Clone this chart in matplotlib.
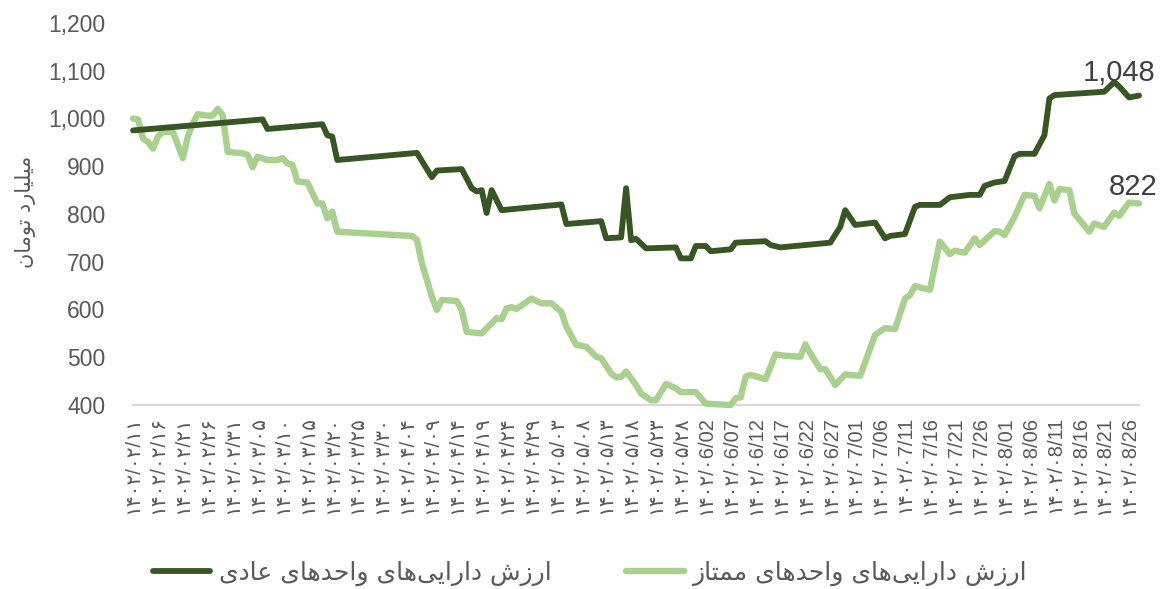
import matplotlib.pyplot as plt
import numpy as np

plt.rcParams['font.family'] = ['Liberation Sans', 'DejaVu Sans']

# ---------------------------------------------------------------------------
# data: days counted from 1402/02/11, values in billion toman
dark_days = [0, 26, 27, 38, 39, 40, 41, 57, 60, 61, 66, 68, 69, 70, 71, 72, 74,
             86, 87, 94, 95, 98, 99, 100, 101, 103, 109, 110, 112, 113, 115, 116,
             120, 121, 127, 128, 130, 140, 142, 143, 145, 149, 151, 152, 155, 157,
             158, 162, 164, 168, 170, 171, 173, 175, 177, 178, 181, 183, 184, 185,
             195, 196, 197, 198, 200, 202]
dark_vals = [975, 998, 978, 988, 965, 962, 913, 928, 877, 891, 894, 854, 847, 850, 802, 850, 808,
             820, 779, 785, 749, 751, 854, 745, 748, 728, 730, 707, 707, 733, 733, 722,
             726, 740, 743, 735, 730, 740, 773, 808, 777, 782, 749, 754, 758, 815,
             819, 819, 835, 840, 840, 859, 866, 869, 921, 926, 926, 965, 1042, 1049,
             1056, 1066, 1076, 1067, 1044, 1048]

light_days = [0, 1, 2, 3, 4, 5, 6, 8, 10, 11, 12, 13, 15, 16, 17, 18, 19, 22, 23, 24,
              25, 27, 29, 30, 31, 32, 33, 35, 37, 38, 39, 40, 41, 56, 57, 58, 60, 61, 62, 65,
              66, 67, 69, 70, 72, 73, 74, 75, 76, 77, 80, 82, 84, 86, 87, 89, 91, 93, 94, 96,
              97, 98, 99, 101, 102, 104, 105, 107, 109, 110, 113, 115, 118, 120, 121, 122,
              123, 124, 127, 129, 131, 134, 135, 136, 138, 139, 141, 143, 146, 149,
              151, 153, 155, 156, 157, 160, 162, 164, 165, 167, 169, 170, 173, 174, 175,
              177, 179, 181, 182, 184, 185, 186, 188, 189, 192, 193, 195, 197, 198, 200, 202]
light_vals = [1000, 998, 958, 951, 937, 962, 972, 972, 917, 962, 990, 1009, 1006, 1006, 1020, 1007, 930, 927, 924, 898,
              920, 913, 913, 917, 906, 903, 868, 866, 822, 822, 791, 805, 763, 754, 746, 697, 627, 599, 620, 618,
              599, 553, 551, 550, 571, 582, 580, 602, 605, 601, 623, 613, 613, 595, 564, 526, 522, 501, 498, 466,
              458, 459, 470, 442, 424, 410, 410, 444, 435, 427, 427, 403, 401, 400, 414, 416,
              459, 463, 454, 506, 503, 501, 527, 508, 475, 475, 442, 464, 461, 547,
              561, 559, 623, 630, 649, 641, 742, 716, 723, 719, 749, 735, 764, 763, 756,
              794, 840, 838, 812, 863, 828, 852, 850, 801, 763, 780, 773, 803, 796, 824, 822]

tick_labels = ['۱۴۰۲/۰۲/۱۱', '۱۴۰۲/۰۲/۱۶', '۱۴۰۲/۰۲/۲۱', '۱۴۰۲/۰۲/۲۶', '۱۴۰۲/۰۲/۳۱',
               '۱۴۰۲/۰۳/۰۵', '۱۴۰۲/۰۳/۱۰', '۱۴۰۲/۰۳/۱۵', '۱۴۰۲/۰۳/۲۰', '۱۴۰۲/۰۳/۲۵', '۱۴۰۲/۰۳/۳۰',
               '۱۴۰۲/۰۴/۰۴', '۱۴۰۲/۰۴/۰۹', '۱۴۰۲/۰۴/۱۴', '۱۴۰۲/۰۴/۱۹', '۱۴۰۲/۰۴/۲۴', '۱۴۰۲/۰۴/۲۹',
               '۱۴۰۲/۰۵/۰۳', '۱۴۰۲/۰۵/۰۸', '۱۴۰۲/۰۵/۱۳', '۱۴۰۲/۰۵/۱۸', '۱۴۰۲/۰۵/۲۳', '۱۴۰۲/۰۵/۲۸',
               '۱۴۰۲/۰6/02', '۱۴۰۲/۰6/07', '۱۴۰۲/۰6/12', '۱۴۰۲/۰6/17', '۱۴۰۲/۰6/22', '۱۴۰۲/۰6/27',
               '۱۴۰۲/۰7/01', '۱۴۰۲/۰7/06', '۱۴۰۲/۰7/11', '۱۴۰۲/۰7/16', '۱۴۰۲/۰7/21', '۱۴۰۲/۰7/26',
               '۱۴۰۲/۰8/01', '۱۴۰۲/۰8/06', '۱۴۰۲/۰8/11', '۱۴۰۲/۰8/16', '۱۴۰۲/۰8/21', '۱۴۰۲/۰8/26']
tick_step = 5

name_dark = 'ارزش دارایی‌های واحدهای عادی'
name_light = 'ارزش دارایی‌های واحدهای ممتاز'
ylabel = 'میلیارد تومان'

# ---------------------------------------------------------------------------
# persian shaping (matplotlib has no complex text layout)
FORMS = {  # isolated, final, initial, medial
    'ا': ('\uFE8D', '\uFE8E', None, None),
    'د': ('\uFEA9', '\uFEAA', None, None),
    'ر': ('\uFEAD', '\uFEAE', None, None),
    'ز': ('\uFEAF', '\uFEB0', None, None),
    'و': ('\uFEED', '\uFEEE', None, None),
    'ت': ('\uFE95', '\uFE96', '\uFE97', '\uFE98'),
    'ح': ('\uFEA1', '\uFEA2', '\uFEA3', '\uFEA4'),
    'ش': ('\uFEB5', '\uFEB6', '\uFEB7', '\uFEB8'),
    'ع': ('\uFEC9', '\uFECA', '\uFECB', '\uFECC'),
    'ل': ('\uFEDD', '\uFEDE', '\uFEDF', '\uFEE0'),
    'م': ('\uFEE1', '\uFEE2', '\uFEE3', '\uFEE4'),
    'ن': ('\uFEE5', '\uFEE6', '\uFEE7', '\uFEE8'),
    'ه': ('\uFEE9', '\uFEEA', '\uFEEB', '\uFEEC'),
    'ی': ('\uFBFC', '\uFBFD', '\uFBFE', '\uFBFF'),
}


def shape(text):
    out = []
    for i, c in enumerate(text):
        if c not in FORMS:
            if c != '\u200c':
                out.append(c)
            continue
        prev = text[i - 1] if i > 0 else ''
        nxt = text[i + 1] if i + 1 < len(text) else ''
        left = prev in FORMS and FORMS[prev][2] is not None
        right = FORMS[c][2] is not None and nxt in FORMS
        iso, fin, ini, med = FORMS[c]
        if left and right:
            out.append(med)
        elif left:
            out.append(fin)
        elif right:
            out.append(ini)
        else:
            out.append(iso)
    return ''.join(reversed(out))


# ---------------------------------------------------------------------------
fig = plt.figure(figsize=(11.61, 5.89), dpi=100)
ax = fig.add_axes([0.1146, 0.3124, 0.8665, 0.6486])

ax.plot(light_days, light_vals, color='#A9D18E', lw=4.6, solid_joinstyle='round',
        solid_capstyle='round', clip_on=False, label=shape(name_light), zorder=3)
ax.plot(dark_days, dark_vals, color='#375623', lw=4.2, solid_joinstyle='round',
        solid_capstyle='round', clip_on=False, label=shape(name_dark), zorder=4)

ax.set_xlim(0, dark_days[-1])
ax.set_ylim(400, 1200)
ax.set_yticks(np.arange(400, 1201, 100))
ax.set_yticklabels([f'{v:,}' for v in range(400, 1201, 100)])
ax.set_xticks(np.arange(len(tick_labels)) * tick_step)
ax.set_xticklabels(tick_labels, rotation=90)

for s in ['top', 'right', 'left']:
    ax.spines[s].set_visible(False)
ax.spines['bottom'].set_color('#D9D9D9')
ax.spines['bottom'].set_linewidth(1.6)
ax.tick_params(axis='y', length=0, pad=20, labelsize=16.5, labelcolor='#595959')
ax.tick_params(axis='x', length=0, pad=8, labelsize=14.5, labelcolor='#595959')

# end labels
ax.annotate(f'{dark_vals[-1]:,}', (dark_days[-1], dark_vals[-1]), xytext=(-14, 16),
            textcoords='offset points', ha='center', va='center', fontsize=21,
            color='#404040', zorder=6)
ax.annotate(f'{light_vals[-1]:,}', (light_days[-1], light_vals[-1]), xytext=(-4, 12),
            textcoords='offset points', ha='center', va='center', fontsize=21,
            color='#404040', zorder=6)

fig.text(26 / 1161, 1 - 212 / 589, shape(ylabel), rotation=90, ha='center', va='center',
         fontsize=15, color='#595959', family='DejaVu Sans')

h, l = ax.get_legend_handles_labels()
leg = fig.legend(h[::-1], l[::-1], loc='center', bbox_to_anchor=(0.508, 0.026), ncol=2,
                 frameon=False, handlelength=2.3, handletextpad=0.33,
                 columnspacing=3.0, prop={'family': 'DejaVu Sans', 'size': 18})
for t in leg.get_texts():
    t.set_color('#595959')

fig.savefig('out.png', dpi=100)
